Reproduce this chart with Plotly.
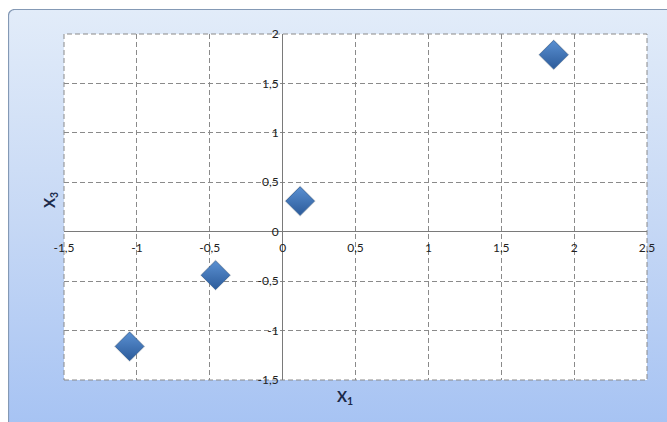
import base64
import plotly.graph_objects as go

# Observations: X1 against X3
x1 = [1.86, 0.12, -0.46, -1.05]
x3 = [1.79, 0.31, -0.44, -1.16]

x_ticks = [-1.5, -1, -0.5, 0, 0.5, 1, 1.5, 2, 2.5]
x_tick_text = ["-1,5", "-1", "-0,5", "0", "0,5", "1", "1,5", "2", "2,5"]
y_ticks = [-1.5, -1, -0.5, 0, 0.5, 1, 1.5, 2]
y_tick_text = ["-1,5", "-1", "-0,5", "0", "0,5", "1", "1,5", "2"]

W, H = 667, 422
ML, MR, MT, MB = 64, 20, 34, 42
PW, PH = W - ML - MR, H - MT - MB

# Chart-area background: framed panel with a soft vertical blue gradient
fw, fh = 662, 416
svg = f"""<svg xmlns='http://www.w3.org/2000/svg' width='{fw}' height='{fh}' viewBox='0 0 {fw} {fh}' preserveAspectRatio='none'>
<defs><linearGradient id='g' x1='0' y1='0' x2='0' y2='1'>
<stop offset='0' stop-color='#e2ecf9'/>
<stop offset='0.5' stop-color='#c6d8f5'/>
<stop offset='1' stop-color='#a5c2f3'/>
</linearGradient></defs>
<rect x='0.5' y='0.5' width='{fw + 10}' height='{fh + 10}' rx='6' ry='6' fill='url(#g)' stroke='#8499b5' stroke-width='1.2'/>
</svg>"""
bg_src = "data:image/svg+xml;base64," + base64.b64encode(svg.encode()).decode()

font = "Lato, 'Open Sans', sans-serif"
grid = "#8a8a8a"

fig = go.Figure()
# soft drop shadow under each diamond
fig.add_trace(go.Scatter(
    x=x1, y=x3, mode="markers",
    marker=dict(symbol="diamond", size=24, color="rgba(120,120,120,0.25)",
                line=dict(width=0)),
    hoverinfo="skip", showlegend=False,
))
fig.add_trace(go.Scatter(
    x=x1, y=x3, mode="markers",
    marker=dict(symbol="diamond", size=22, color="#5a90d2",
                gradient=dict(type="vertical", color="#2c5b9a"),
                line=dict(color="#2f5f9c", width=0.8)),
    hoverinfo="x+y", showlegend=False,
))

axis_common = dict(
    showgrid=True, gridcolor=grid, gridwidth=1, griddash="5px,3px",
    zeroline=True, zerolinecolor="#7a7a7a", zerolinewidth=1,
    showline=False, ticks="",
    tickfont=dict(family=font, size=12, color="#222222"),
    fixedrange=True,
)

fig.update_layout(
    width=W, height=H,
    margin=dict(l=ML, r=MR, t=MT, b=MB, pad=0),
    paper_bgcolor="white", plot_bgcolor="white",
    xaxis=dict(range=[-1.5, 2.5], tickvals=x_ticks, ticktext=x_tick_text,
               anchor="free", position=1.5 / 3.5, ticklabelstandoff=7,
               **axis_common),
    yaxis=dict(range=[-1.5, 2.0], tickvals=y_ticks, ticktext=y_tick_text,
               anchor="free", position=1.5 / 4.0, ticklabelstandoff=4,
               **axis_common),
    images=[dict(source=bg_src, xref="paper", yref="paper",
                 x=(8 - ML) / PW, y=(H - MB - 9) / PH,
                 sizex=fw / PW, sizey=fh / PH,
                 xanchor="left", yanchor="top", sizing="stretch",
                 layer="below")],
    shapes=[
        # white plot area with a dashed border
        dict(type="rect", xref="paper", yref="paper", x0=0, y0=0, x1=1, y1=1,
             fillcolor="white", line=dict(color=grid, width=1, dash="5px,3px"),
             layer="below"),
    ],
    annotations=[
        dict(text="<b>X<sub>1</sub></b>", xref="paper", yref="paper",
             x=(345 - ML) / PW, y=(H - MB - 409) / PH, showarrow=False,
             font=dict(family=font, size=15, color="#1c2a4a")),
        dict(text="<b>X<sub>3</sub></b>", xref="paper", yref="paper",
             x=(38 - ML) / PW, y=(H - MB - 200) / PH, showarrow=False,
             textangle=-90,
             font=dict(family=font, size=15, color="#1c2a4a")),
    ],
)

fig.write_html("out.html")
